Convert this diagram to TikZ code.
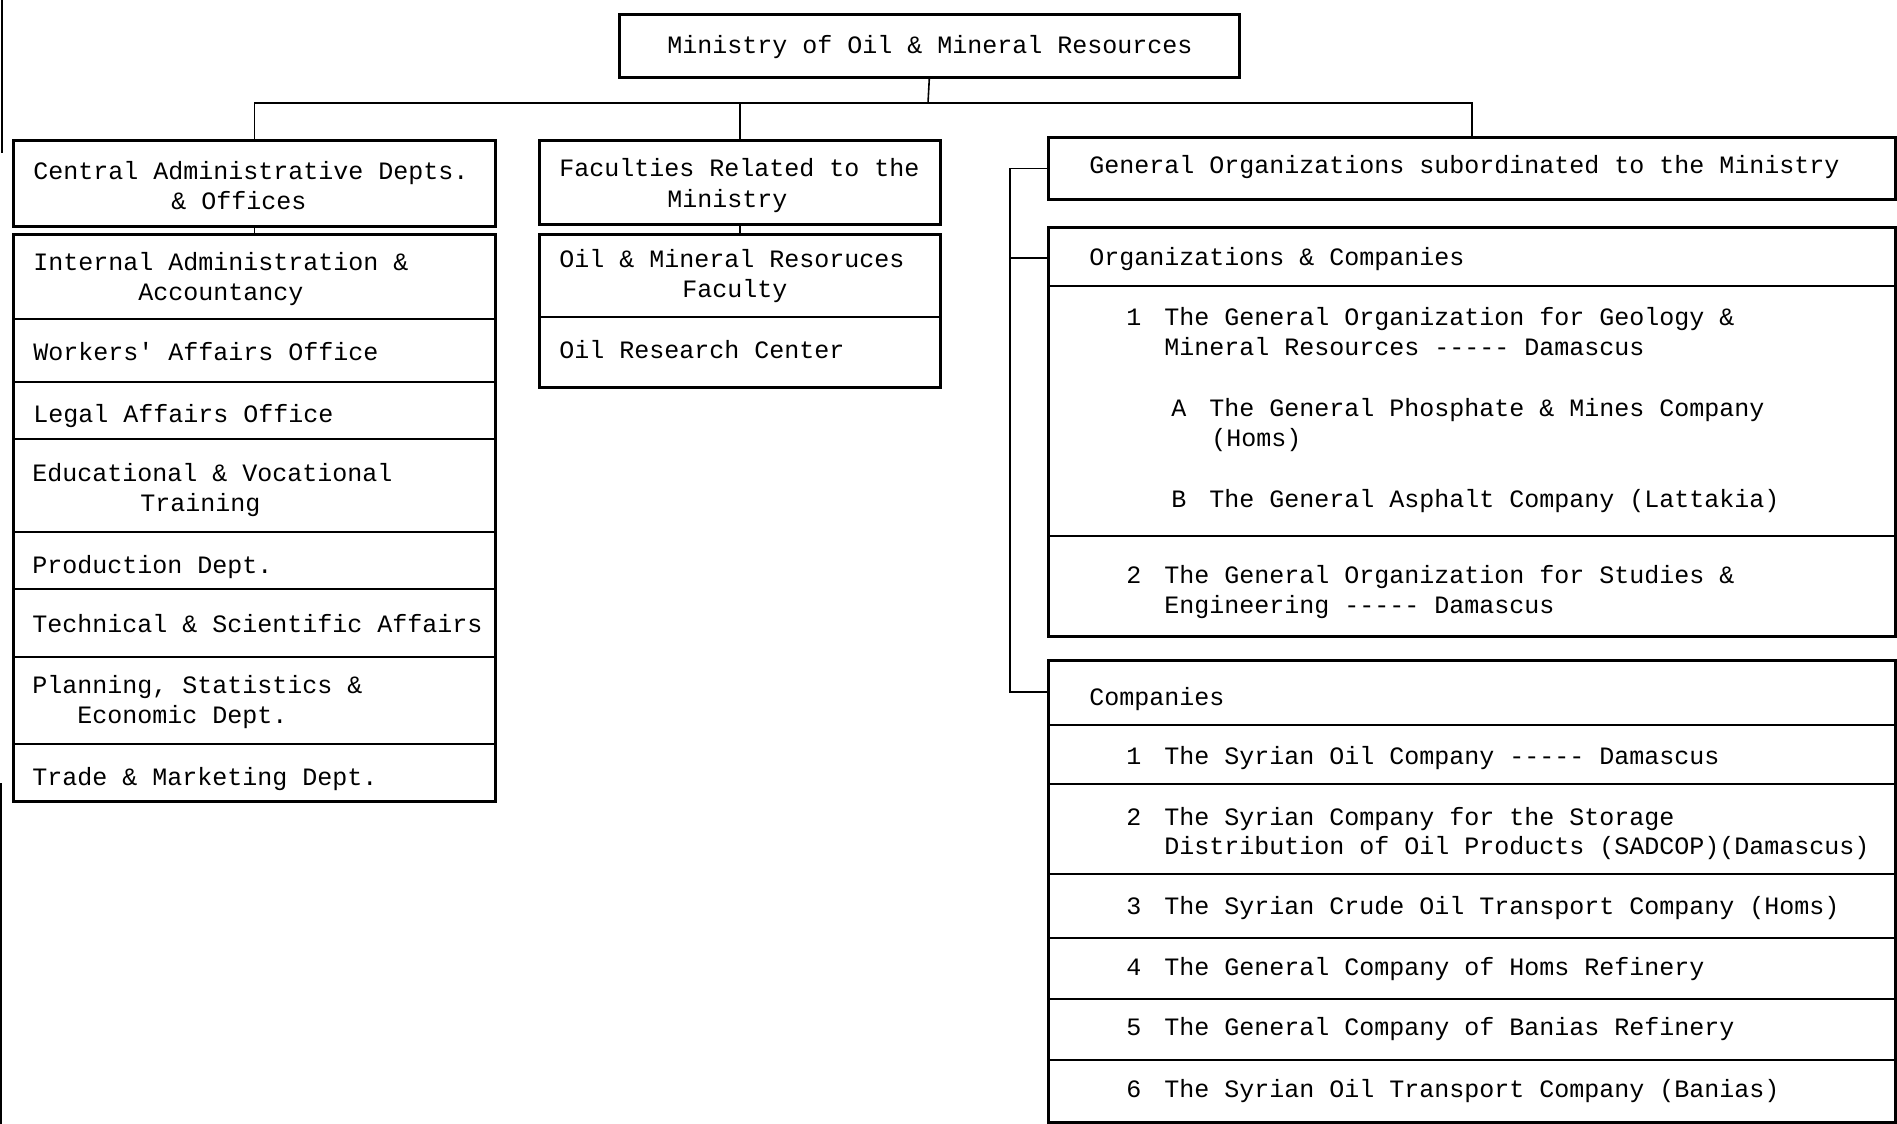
\documentclass[tikz,border=0pt]{standalone}
\usepackage{fontspec}
\newfontfamily\monof{Liberation Mono}
\begin{document}
\begin{tikzpicture}[x=0.5pt,y=-0.5pt,
  box/.style={draw,line width=1.3pt,inner sep=0pt,anchor=north west},
  txt/.style={inner sep=0pt,anchor=base west,font=\monof\fontsize{12.5}{15}\selectfont},
  rule/.style={line width=0.7pt},
  conn/.style={line width=0.8pt}]
\useasboundingbox (0,0) rectangle (1897,1124);
\fill[white] (0,0) rectangle (1897,1124);

% boxes
\node[box,minimum width=310pt,minimum height=31.5pt] (ministry) at (618,13) {};
\node[box,minimum width=241pt,minimum height=43pt] (central) at (12,139) {};
\node[box,minimum width=241pt,minimum height=283.5pt] (centrallist) at (12,233) {};
\node[box,minimum width=200.5pt,minimum height=42pt] (faculties) at (538,139) {};
\node[box,minimum width=200.5pt,minimum height=76.5pt] (facultylist) at (538,233) {};
\node[box,minimum width=423.5pt,minimum height=31pt] (genorg) at (1047,136) {};
\node[box,minimum width=423.5pt,minimum height=204.5pt] (orgco) at (1047,226) {};
\node[box,minimum width=423.5pt,minimum height=231pt] (companies) at (1047,659) {};

% dividers
\foreach \yy in {319,382,439,532,589,657,744}
  \draw[rule] (centrallist.west |- 0,\yy) -- (centrallist.east |- 0,\yy);
\draw[rule] (facultylist.west |- 0,317) -- (facultylist.east |- 0,317);
\foreach \yy in {286,536}
  \draw[rule] (orgco.west |- 0,\yy) -- (orgco.east |- 0,\yy);
\foreach \yy in {725,784,874,938,999,1060}
  \draw[rule] (companies.west |- 0,\yy) -- (companies.east |- 0,\yy);

% connectors
\coordinate (bus) at (928,103);
\coordinate (brk) at (1010,0);
\coordinate (orghook) at (1047,258);
\coordinate (comphook) at (1047,692);
\draw[conn] (ministry.south) -- (bus);
\draw[conn] (central.north) -- (central.north |- bus) -- (genorg.north |- bus) -- (genorg.north);
\draw[conn] (faculties.north) -- (faculties.north |- bus);
\draw[conn] (central.south) -- (centrallist.north);
\draw[conn] (faculties.south) -- (facultylist.north);
\draw[conn] (genorg.west) -- (genorg.west -| brk) -- (comphook -| brk) -- (comphook);
\draw[conn] (orghook -| brk) -- (orghook);

% page-edge marks
\draw[line width=1.2pt] (2,0) -- (2,153);
\draw[line width=0.9pt] (1,783) -- (1,1124);

% texts
\node[txt] (tmin) at (667,54) {Ministry of Oil \& Mineral Resources};

\node[txt] (tc1) at (33,179) {Central Administrative Depts.};
\node[txt] (tc2) at (171,209) {\& Offices};
\node[txt] (tl1) at (33,270) {Internal Administration \&};
\node[txt] (tl2) at (138,300) {Accountancy};
\node[txt] (tl3) at (33,360) {Workers' Affairs Office};
\node[txt] (tl4) at (33,422) {Legal Affairs Office};
\node[txt] (tl5) at (32,481) {Educational \& Vocational};
\node[txt] (tl6) at (140,511) {Training};
\node[txt] (tl7) at (32,573) {Production Dept.};
\node[txt] (tl8) at (32,632) {Technical \& Scientific Affairs};
\node[txt] (tl9) at (32,693) {Planning, Statistics \&};
\node[txt] (tl10) at (77,723) {Economic Dept.};
\node[txt] (tl11) at (32,785) {Trade \& Marketing Dept.};

\node[txt] (tf1) at (559,176) {Faculties Related to the};
\node[txt] (tf2) at (667,207) {Ministry};
\node[txt] (tf3) at (559,267) {Oil \& Mineral Resoruces};
\node[txt] (tf4) at (682,297) {Faculty};
\node[txt] (tf5) at (559,358) {Oil Research Center};

\node[txt] (tg) at (1089,173) {General Organizations subordinated to the Ministry};
\node[txt] (to) at (1089,265) {Organizations \& Companies};
\node[txt] (to1n) at (1126,325) {1};
\node[txt] (to1a) at (1164,325) {The General Organization for Geology \&};
\node[txt] (to1b) at (1164,355) {Mineral Resources {-}{-}{-}{-}{-} Damascus};
\node[txt] (toAn) at (1171,416) {A};
\node[txt] (toAa) at (1209,416) {The General Phosphate \& Mines Company};
\node[txt] (toAb) at (1211,446) {(Homs)};
\node[txt] (toBn) at (1171,507) {B};
\node[txt] (toBa) at (1209,507) {The General Asphalt Company (Lattakia)};
\node[txt] (to2n) at (1126,583) {2};
\node[txt] (to2a) at (1164,583) {The General Organization for Studies \&};
\node[txt] (to2b) at (1164,613) {Engineering {-}{-}{-}{-}{-} Damascus};

\node[txt] (tk) at (1089,705) {Companies};
\node[txt] (tk1n) at (1126,764) {1};
\node[txt] (tk1) at (1164,764) {The Syrian Oil Company {-}{-}{-}{-}{-} Damascus};
\node[txt] (tk2n) at (1126,825) {2};
\node[txt] (tk2a) at (1164,825) {The Syrian Company for the Storage};
\node[txt] (tk2b) at (1164,854) {Distribution of Oil Products (SADCOP)(Damascus)};
\node[txt] (tk3n) at (1126,914) {3};
\node[txt] (tk3) at (1164,914) {The Syrian Crude Oil Transport Company (Homs)};
\node[txt] (tk4n) at (1126,975) {4};
\node[txt] (tk4) at (1164,975) {The General Company of Homs Refinery};
\node[txt] (tk5n) at (1126,1035) {5};
\node[txt] (tk5) at (1164,1035) {The General Company of Banias Refinery};
\node[txt] (tk6n) at (1126,1097) {6};
\node[txt] (tk6) at (1164,1097) {The Syrian Oil Transport Company (Banias)};
\end{tikzpicture}
\end{document}
